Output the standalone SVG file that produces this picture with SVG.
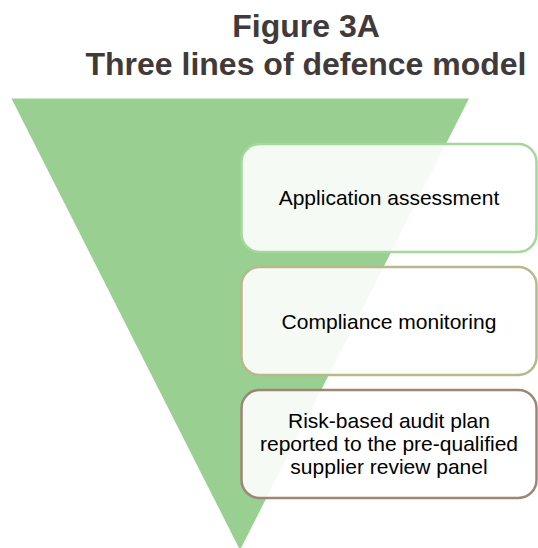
<svg xmlns="http://www.w3.org/2000/svg" width="538" height="548" viewBox="0 0 538 548">
<style>
.title{font-family:"Liberation Sans",Arial,sans-serif;font-weight:bold;font-size:32px;fill:#403a3a;text-anchor:middle}
.box{fill:#ffffff;fill-opacity:0.9;stroke-width:2.5}
.lbl{font-family:"Liberation Sans",Arial,sans-serif;font-size:21px;fill:#000000;text-anchor:middle}
</style>
<rect width="538" height="548" fill="#ffffff"/>
<g id="title">
<text class="title" x="306" y="37">Figure 3A</text>
<text class="title" x="306" y="75">Three lines of defence model</text>
</g>
<g id="funnel">
<polygon points="11.5,98.5 469,98.5 240,550" fill="#99cf91"/>
</g>
<g id="node1">
<rect class="box" x="241.5" y="144" width="295" height="108" rx="18" stroke="#a5d69c"/>
<text class="lbl" x="389" y="205">Application assessment</text>
</g>
<g id="node2">
<rect class="box" x="241.5" y="267" width="295" height="108" rx="18" stroke="#b8b88c"/>
<text class="lbl" x="389" y="329">Compliance monitoring</text>
</g>
<g id="node3">
<rect class="box" x="241.5" y="390" width="295" height="108" rx="18" stroke="#9e8676"/>
<text class="lbl" x="389" y="428">Risk-based audit plan</text>
<text class="lbl" x="389" y="451">reported to the pre-qualified</text>
<text class="lbl" x="389" y="474">supplier review panel</text>
</g>
</svg>
